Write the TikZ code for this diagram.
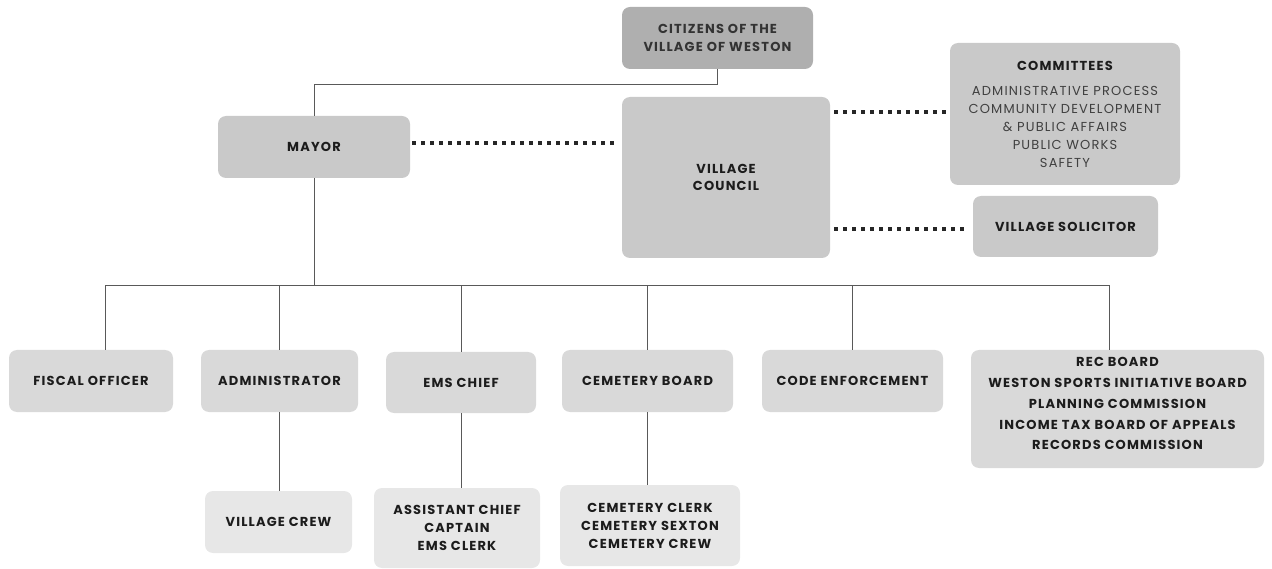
\documentclass[tikz,border=0pt]{standalone}
\usepackage{fontspec}
\setmainfont{Poppins}[LetterSpace=9]
\usetikzlibrary{calc}
\definecolor{boxA}{HTML}{C9C9C9}
\definecolor{boxCit}{HTML}{AFAFAF}
\definecolor{boxB}{HTML}{D9D9D9}
\definecolor{boxC}{HTML}{E7E7E7}
\definecolor{txt}{HTML}{1C1C1C}
\definecolor{lightxt}{HTML}{404040}
\newcommand\cmitem[1]{{\mdseries\color{lightxt}#1}}
\begin{document}
\begin{tikzpicture}[x=1pt,y=-1pt,
  box/.style={rounded corners=8pt, inner sep=0pt, align=center, text=txt,
    font=\bfseries\fontsize{13}{18}\selectfont},
  conn/.style={draw=black!65, line width=1pt},
  dots/.style={draw=black!85, line width=3.5pt, dash pattern=on 3.5pt off 5.5pt}]
\useasboundingbox (0,0) rectangle (1272,569);
% top
\node[box, fill=boxCit, text=black!80, minimum width=191pt, minimum height=62pt] (cit) at (717.5,38) {CITIZENS OF THE\\VILLAGE OF WESTON};
\node[box, fill=boxA, minimum width=192pt, minimum height=62pt] (mayor) at (314,147) {MAYOR};
\node[box, fill=boxA, minimum width=208pt, minimum height=161pt] (council) at (726,177.5) {VILLAGE\\[-1pt]COUNCIL};
\node[box, fill=boxA, minimum width=230pt, minimum height=142pt] (comm) at (1065,114)
  {COMMITTEES\\[7pt]\cmitem{ADMINISTRATIVE PROCESS}\\\cmitem{COMMUNITY DEVELOPMENT}\\\cmitem{\& PUBLIC AFFAIRS}\\\cmitem{PUBLIC WORKS}\\\cmitem{SAFETY}};
\node[box, fill=boxA, minimum width=185pt, minimum height=61pt] (sol) at (1065.5,226.5) {VILLAGE SOLICITOR};
% row 2
\node[box, fill=boxB, minimum width=164pt, minimum height=62pt] (fiscal) at (91,381) {FISCAL OFFICER};
\node[box, fill=boxB, minimum width=157pt, minimum height=62pt] (admin) at (279.5,381) {ADMINISTRATOR};
\node[box, fill=boxB, minimum width=150pt, minimum height=61pt] (ems) at (461,382.5) {EMS CHIEF};
\node[box, fill=boxB, minimum width=171pt, minimum height=62pt] (cembd) at (647.5,381) {CEMETERY BOARD};
\node[box, fill=boxB, font=\bfseries\fontsize{13}{20.75}\selectfont, minimum width=293pt, minimum height=118pt] (rec) at (1117.5,409)
  {REC BOARD\\WESTON SPORTS INITIATIVE BOARD\\PLANNING COMMISSION\\INCOME TAX BOARD OF APPEALS\\RECORDS COMMISSION\\[-10pt]};
\node[box, fill=boxB, minimum width=181pt, minimum height=62pt] (code) at (852.5,381) {CODE ENFORCEMENT};
% row 3
\node[box, fill=boxC, minimum width=147pt, minimum height=62pt] (crew) at (278.5,522) {VILLAGE CREW};
\node[box, fill=boxC, minimum width=166pt, minimum height=80pt] (asst) at (457,528) {ASSISTANT CHIEF\\CAPTAIN\\EMS CLERK};
\node[box, fill=boxC, minimum width=180pt, minimum height=81pt] (cemclerk) at (650,525.5) {CEMETERY CLERK\\CEMETERY SEXTON\\CEMETERY CREW};
% coordinates
\coordinate (busL) at (105,286);
\coordinate (busR) at (1109,286);
\coordinate (topj) at (0,85);
% connectors
\draw[conn] (cit.south) -- (cit.south |- topj) -| (mayor.north);
\draw[conn] (mayor.south) -- (mayor.south |- busL);
\draw[conn] (busL |- fiscal.north) -- (busL) -- (busR) -- (busR |- rec.north);
\draw[conn] (admin.north) -- (admin.north |- busL);
\draw[conn] (ems.north) -- (ems.north |- busL);
\draw[conn] (cembd.north) -- (cembd.north |- busL);
\draw[conn] (code.north) -- (code.north |- busL);
\draw[conn] (admin.south) -- (admin.south |- crew.north);
\draw[conn] (ems.south) -- (ems.south |- asst.north);
\draw[conn] (cembd.south) -- (cembd.south |- cemclerk.north);
% dotted
\draw[dots] ([xshift=2pt]mayor.east |- 0,143) -- ([xshift=-3pt]council.west |- 0,143);
\draw[dots] ([xshift=4pt]council.east |- 0,112) -- ([xshift=-3pt]comm.west |- 0,112);
\draw[dots] ([xshift=4pt]council.east |- 0,229) -- ([xshift=-4pt]sol.west |- 0,229);
\end{tikzpicture}
\end{document}
